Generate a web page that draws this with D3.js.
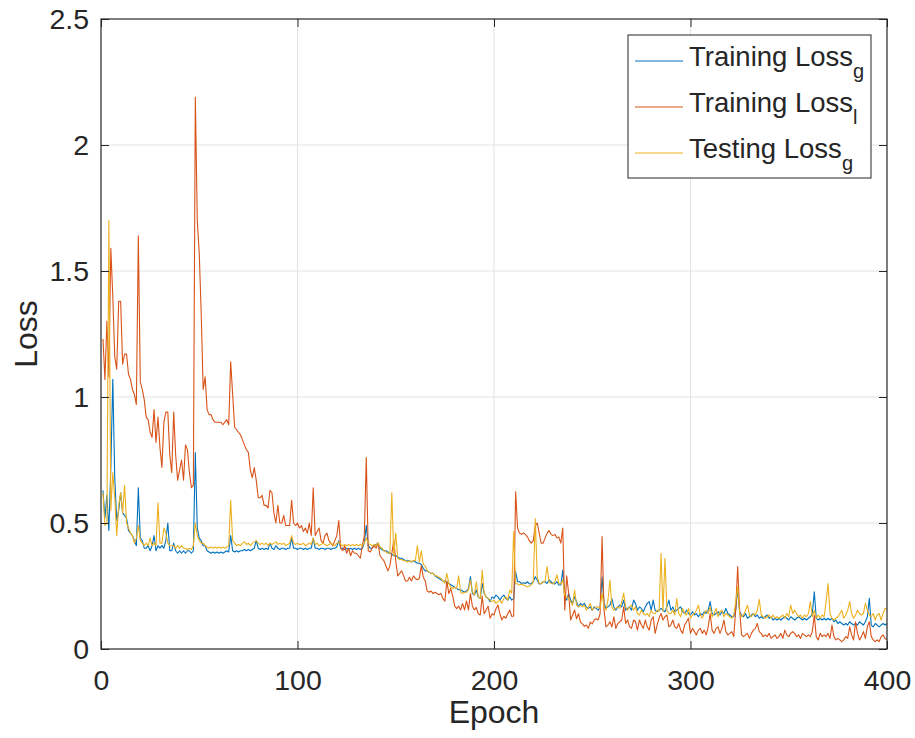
<!DOCTYPE html>
<html>
<head>
<meta charset="utf-8">
<script src="https://cdn.jsdelivr.net/npm/d3@7"></script>
<style>
  body { margin: 0; background: #fff; }
  svg text { font-family: Helvetica, "Liberation Sans", Arial, sans-serif; fill: #262626; }
</style>
</head>
<body>
<svg id="chart" width="915" height="738"></svg>
<script>
// loss per epoch (1..400)
const trainLossG = [
  0.63,0.52,0.61,0.47,0.72,1.07,0.68,0.51,0.55,0.62,
  0.54,0.53,0.52,0.47,0.46,0.45,0.43,0.41,0.64,0.44,
  0.43,0.40,0.40,0.41,0.39,0.41,0.45,0.39,0.41,0.40,
  0.41,0.40,0.43,0.50,0.39,0.39,0.42,0.39,0.38,0.39,
  0.38,0.39,0.38,0.39,0.39,0.38,0.39,0.78,0.48,0.44,
  0.43,0.41,0.41,0.39,0.385,0.38,0.385,0.38,0.385,0.38,
  0.385,0.38,0.385,0.39,0.385,0.45,0.39,0.385,0.39,0.385,
  0.39,0.39,0.395,0.39,0.395,0.39,0.395,0.40,0.43,0.40,
  0.395,0.40,0.395,0.40,0.395,0.42,0.40,0.395,0.41,0.40,
  0.395,0.40,0.40,0.395,0.40,0.40,0.44,0.40,0.40,0.395,
  0.40,0.40,0.395,0.40,0.395,0.40,0.40,0.44,0.40,0.40,
  0.395,0.40,0.40,0.395,0.40,0.40,0.395,0.40,0.40,0.405,
  0.43,0.40,0.40,0.395,0.40,0.395,0.40,0.395,0.40,0.395,
  0.40,0.395,0.40,0.42,0.49,0.41,0.40,0.40,0.41,0.415,
  0.42,0.40,0.395,0.39,0.39,0.385,0.38,0.375,0.37,0.37,
  0.365,0.36,0.36,0.355,0.35,0.35,0.35,0.345,0.35,0.345,
  0.34,0.34,0.335,0.32,0.31,0.31,0.305,0.30,0.30,0.29,
  0.285,0.28,0.275,0.27,0.27,0.265,0.26,0.255,0.25,0.245,
  0.24,0.235,0.235,0.23,0.225,0.23,0.24,0.287,0.221,0.214,
  0.234,0.207,0.201,0.26,0.221,0.207,0.201,0.188,0.207,0.201,
  0.214,0.207,0.194,0.207,0.214,0.201,0.194,0.207,0.194,0.20,
  0.307,0.267,0.267,0.26,0.263,0.26,0.267,0.258,0.26,0.267,
  0.287,0.274,0.258,0.26,0.267,0.267,0.26,0.274,0.267,0.26,
  0.258,0.267,0.254,0.254,0.313,0.207,0.194,0.221,0.194,0.181,
  0.207,0.188,0.167,0.181,0.174,0.181,0.167,0.161,0.167,0.154,
  0.167,0.161,0.154,0.167,0.287,0.181,0.161,0.167,0.174,0.20,
  0.167,0.154,0.167,0.174,0.167,0.194,0.154,0.161,0.167,0.154,
  0.194,0.181,0.154,0.167,0.161,0.148,0.167,0.181,0.188,0.154,
  0.194,0.154,0.148,0.154,0.161,0.154,0.148,0.167,0.194,0.154,
  0.167,0.148,0.154,0.161,0.167,0.148,0.141,0.154,0.141,0.135,
  0.148,0.135,0.141,0.128,0.141,0.135,0.148,0.141,0.154,0.188,
  0.141,0.135,0.141,0.148,0.135,0.148,0.141,0.161,0.141,0.135,
  0.128,0.128,0.154,0.24,0.148,0.135,0.128,0.141,0.122,0.128,
  0.135,0.141,0.128,0.135,0.122,0.128,0.122,0.128,0.135,0.122,
  0.128,0.115,0.122,0.115,0.122,0.115,0.122,0.128,0.122,0.115,
  0.128,0.122,0.115,0.122,0.128,0.122,0.115,0.122,0.115,0.122,
  0.128,0.141,0.227,0.122,0.115,0.122,0.115,0.122,0.115,0.122,
  0.115,0.122,0.108,0.115,0.101,0.108,0.101,0.095,0.101,0.095,
  0.108,0.101,0.095,0.101,0.095,0.108,0.101,0.095,0.108,0.128,
  0.201,0.095,0.088,0.101,0.095,0.088,0.095,0.101,0.095,0.101
];

const trainLossL = [
  1.23,1.07,1.30,1.08,1.59,1.40,1.16,1.11,1.38,1.38,
  1.13,1.17,1.17,1.09,1.07,1.03,1.01,0.97,1.64,1.06,
  1.03,0.99,0.92,0.91,0.86,0.84,0.95,0.82,0.92,0.80,
  0.72,0.90,0.94,0.94,0.77,0.70,0.94,0.77,0.67,0.71,
  0.75,0.67,0.81,0.79,0.70,0.64,0.65,2.19,1.70,1.57,
  1.33,1.03,1.08,0.95,0.93,0.93,0.91,0.90,0.90,0.90,
  0.90,0.89,0.90,0.91,0.89,1.14,1.01,0.88,0.87,0.86,
  0.85,0.83,0.81,0.79,0.78,0.71,0.68,0.72,0.67,0.60,
  0.60,0.61,0.57,0.57,0.56,0.63,0.62,0.54,0.50,0.57,
  0.50,0.50,0.53,0.49,0.49,0.49,0.59,0.50,0.49,0.50,
  0.48,0.49,0.466,0.48,0.46,0.50,0.45,0.64,0.45,0.465,
  0.48,0.43,0.42,0.45,0.46,0.43,0.42,0.41,0.43,0.45,
  0.51,0.40,0.39,0.41,0.38,0.40,0.37,0.39,0.38,0.38,
  0.37,0.36,0.41,0.45,0.76,0.39,0.385,0.40,0.41,0.40,
  0.42,0.37,0.36,0.35,0.33,0.31,0.33,0.38,0.43,0.35,
  0.29,0.30,0.31,0.29,0.27,0.27,0.285,0.27,0.29,0.28,
  0.275,0.28,0.33,0.285,0.27,0.23,0.225,0.23,0.22,0.225,
  0.22,0.215,0.22,0.20,0.19,0.27,0.22,0.24,0.21,0.17,
  0.16,0.17,0.155,0.18,0.155,0.19,0.155,0.22,0.17,0.155,
  0.165,0.14,0.135,0.21,0.14,0.155,0.17,0.122,0.14,0.135,
  0.16,0.175,0.14,0.115,0.13,0.122,0.14,0.155,0.13,0.13,
  0.624,0.48,0.46,0.455,0.46,0.455,0.445,0.43,0.42,0.43,
  0.49,0.50,0.46,0.42,0.42,0.44,0.46,0.47,0.455,0.45,
  0.455,0.44,0.445,0.42,0.48,0.155,0.29,0.22,0.115,0.135,
  0.155,0.12,0.14,0.107,0.10,0.09,0.095,0.082,0.107,0.10,
  0.115,0.12,0.115,0.14,0.446,0.154,0.088,0.095,0.108,0.088,
  0.128,0.082,0.101,0.108,0.115,0.167,0.101,0.115,0.088,0.082,
  0.115,0.108,0.075,0.115,0.095,0.082,0.115,0.088,0.075,0.115,
  0.128,0.062,0.095,0.122,0.141,0.115,0.128,0.135,0.088,0.095,
  0.115,0.088,0.082,0.101,0.075,0.062,0.095,0.108,0.122,0.062,
  0.082,0.069,0.056,0.075,0.082,0.062,0.075,0.056,0.088,0.141,
  0.075,0.062,0.082,0.088,0.062,0.082,0.115,0.069,0.056,0.062,
  0.069,0.049,0.154,0.327,0.154,0.056,0.049,0.056,0.062,0.042,
  0.062,0.075,0.082,0.101,0.069,0.062,0.049,0.056,0.049,0.062,
  0.042,0.049,0.056,0.042,0.049,0.062,0.042,0.075,0.056,0.049,
  0.062,0.069,0.062,0.049,0.056,0.042,0.062,0.056,0.049,0.056,
  0.049,0.07,0.134,0.049,0.036,0.062,0.049,0.056,0.049,0.062,
  0.042,0.095,0.049,0.036,0.042,0.036,0.029,0.036,0.049,0.042,
  0.088,0.056,0.036,0.108,0.062,0.036,0.049,0.069,0.042,0.088,
  0.108,0.049,0.036,0.029,0.036,0.029,0.049,0.056,0.042,0.036
];

const testLossG = [
  0.62,0.49,0.50,1.70,0.55,0.70,0.60,0.45,0.57,0.62,
  0.54,0.65,0.50,0.48,0.46,0.45,0.42,0.44,0.49,0.43,
  0.42,0.41,0.42,0.41,0.44,0.41,0.42,0.41,0.58,0.42,
  0.42,0.48,0.46,0.42,0.41,0.41,0.41,0.40,0.41,0.40,
  0.41,0.40,0.40,0.395,0.40,0.395,0.41,0.50,0.45,0.43,
  0.42,0.42,0.41,0.405,0.40,0.405,0.40,0.405,0.40,0.405,
  0.40,0.405,0.40,0.405,0.41,0.59,0.43,0.42,0.41,0.415,
  0.41,0.42,0.425,0.415,0.42,0.41,0.42,0.425,0.43,0.42,
  0.415,0.42,0.415,0.42,0.41,0.42,0.415,0.42,0.425,0.415,
  0.42,0.415,0.42,0.41,0.415,0.42,0.45,0.42,0.415,0.42,
  0.415,0.415,0.42,0.41,0.415,0.42,0.415,0.44,0.415,0.42,
  0.41,0.415,0.42,0.415,0.41,0.415,0.42,0.415,0.41,0.42,
  0.425,0.415,0.41,0.415,0.41,0.415,0.41,0.415,0.41,0.415,
  0.41,0.415,0.41,0.42,0.44,0.42,0.415,0.41,0.415,0.41,
  0.42,0.405,0.40,0.39,0.385,0.38,0.38,0.62,0.37,0.46,
  0.36,0.355,0.355,0.35,0.35,0.345,0.35,0.345,0.35,0.35,
  0.41,0.345,0.39,0.335,0.33,0.31,0.305,0.30,0.30,0.29,
  0.29,0.285,0.28,0.27,0.26,0.30,0.26,0.245,0.24,0.245,
  0.24,0.29,0.225,0.22,0.225,0.225,0.235,0.274,0.227,0.214,
  0.267,0.207,0.201,0.313,0.221,0.207,0.201,0.194,0.188,0.194,
  0.181,0.188,0.194,0.181,0.201,0.207,0.194,0.234,0.221,0.466,
  0.26,0.258,0.254,0.258,0.254,0.25,0.247,0.25,0.254,0.267,
  0.518,0.287,0.26,0.258,0.267,0.27,0.327,0.267,0.26,0.258,
  0.267,0.294,0.26,0.258,0.274,0.214,0.207,0.201,0.188,0.174,
  0.234,0.174,0.167,0.174,0.167,0.174,0.154,0.167,0.181,0.154,
  0.161,0.167,0.167,0.161,0.221,0.167,0.154,0.194,0.274,0.167,
  0.154,0.161,0.167,0.161,0.188,0.221,0.167,0.154,0.167,0.174,
  0.154,0.167,0.141,0.135,0.154,0.141,0.135,0.141,0.128,0.154,
  0.141,0.141,0.154,0.15,0.38,0.15,0.36,0.154,0.141,0.141,
  0.154,0.135,0.20,0.141,0.128,0.161,0.141,0.135,0.161,0.122,
  0.135,0.141,0.154,0.174,0.135,0.122,0.141,0.154,0.141,0.167,
  0.128,0.141,0.161,0.128,0.148,0.154,0.128,0.141,0.135,0.128,
  0.122,0.135,0.188,0.247,0.141,0.128,0.135,0.154,0.174,0.135,
  0.128,0.141,0.135,0.154,0.197,0.135,0.128,0.122,0.128,0.135,
  0.122,0.135,0.122,0.128,0.122,0.128,0.135,0.122,0.141,0.128,
  0.174,0.141,0.154,0.141,0.128,0.135,0.122,0.135,0.128,0.141,
  0.188,0.128,0.154,0.122,0.135,0.122,0.135,0.128,0.188,0.26,
  0.141,0.122,0.115,0.122,0.128,0.141,0.154,0.122,0.135,0.154,
  0.188,0.141,0.122,0.135,0.154,0.141,0.135,0.141,0.181,0.154,
  0.135,0.128,0.141,0.115,0.135,0.141,0.115,0.141,0.161,0.16
];

const xTicks = [0, 100, 200, 300, 400];
const yTicks = [0, 0.5, 1, 1.5, 2, 2.5];
const legendNames = ['Training Loss', 'Training Loss', 'Testing Loss'];
const legendSubs = ['g', 'l', 'g'];
const colors = ['#0072BD', '#D95319', '#EDB120'];

const width = 915, height = 738;
const margin = {top: 19, right: 28, bottom: 89, left: 101};
const innerW = width - margin.left - margin.right;
const innerH = height - margin.top - margin.bottom;

const svg = d3.select('#chart');
const g = svg.append('g').attr('transform', `translate(${margin.left},${margin.top})`);

const x = d3.scaleLinear().domain([0, 400]).range([0, innerW]);
const y = d3.scaleLinear().domain([0, 2.5]).range([innerH, 0]);

// grid
g.append('g').selectAll('line').data(xTicks.slice(1, -1)).enter().append('line')
  .attr('x1', d => x(d)).attr('x2', d => x(d)).attr('y1', 0).attr('y2', innerH)
  .attr('stroke', '#e3e3e3').attr('stroke-width', 1);
g.append('g').selectAll('line').data(yTicks.slice(1, -1)).enter().append('line')
  .attr('x1', 0).attr('x2', innerW).attr('y1', d => y(d)).attr('y2', d => y(d))
  .attr('stroke', '#e3e3e3').attr('stroke-width', 1);

// lines
const series = [trainLossG, trainLossL, testLossG];
const line = d3.line().x((d, i) => x(i + 1)).y(d => y(d));
series.forEach((s, k) => {
  g.append('path').datum(s)
    .attr('fill', 'none')
    .attr('stroke', colors[k])
    .attr('stroke-width', 1.1)
    .attr('stroke-linejoin', 'round')
    .attr('d', line);
});

// axes (inward ticks)
const fmt = d => String(d);
g.append('g').attr('transform', `translate(0,${innerH})`)
  .call(d3.axisBottom(x).tickValues(xTicks).tickFormat(fmt).tickSize(-8).tickSizeOuter(0).tickPadding(21));
g.append('g')
  .call(d3.axisLeft(y).tickValues(yTicks).tickFormat(fmt).tickSize(-8).tickSizeOuter(0).tickPadding(12));
g.append('g').call(d3.axisTop(x).tickValues(xTicks).tickFormat('').tickSize(-8).tickSizeOuter(0));
g.append('g').attr('transform', `translate(${innerW},0)`)
  .call(d3.axisRight(y).tickValues(yTicks).tickFormat('').tickSize(-8).tickSizeOuter(0));

g.selectAll('.domain').remove();
g.selectAll('.tick line').attr('stroke', '#262626').attr('stroke-width', 1);
g.selectAll('.tick text').attr('fill', '#262626').style('font-size', '28.5px')
  .style('font-family', 'Helvetica, "Liberation Sans", Arial, sans-serif');

g.append('rect').attr('x', 0).attr('y', 0).attr('width', innerW).attr('height', innerH)
  .attr('fill', 'none').attr('stroke', '#262626').attr('stroke-width', 1.2);

// axis labels
svg.append('text').attr('x', margin.left + innerW / 2).attr('y', 723)
  .attr('text-anchor', 'middle').style('font-size', '32px').text('Epoch');
svg.append('text').attr('transform', `translate(37,${margin.top + innerH / 2}) rotate(-90)`)
  .attr('text-anchor', 'middle').style('font-size', '32px').text('Loss');

// legend
const lg = svg.append('g');
lg.append('rect').attr('x', 628).attr('y', 35).attr('width', 243).attr('height', 143)
  .attr('fill', '#fff').attr('stroke', '#262626').attr('stroke-width', 1);
legendNames.forEach((name, i) => {
  const ly = 61 + i * 46;
  lg.append('line').attr('x1', 635).attr('x2', 683).attr('y1', ly).attr('y2', ly)
    .attr('stroke', colors[i]).attr('stroke-width', 1.1);
  const t = lg.append('text').attr('x', 689).attr('y', ly + 5).style('font-size', '27.5px');
  t.append('tspan').text(name);
  t.append('tspan').attr('dy', 12).style('font-size', '20px').text(legendSubs[i]);
});
</script>
</body>
</html>
